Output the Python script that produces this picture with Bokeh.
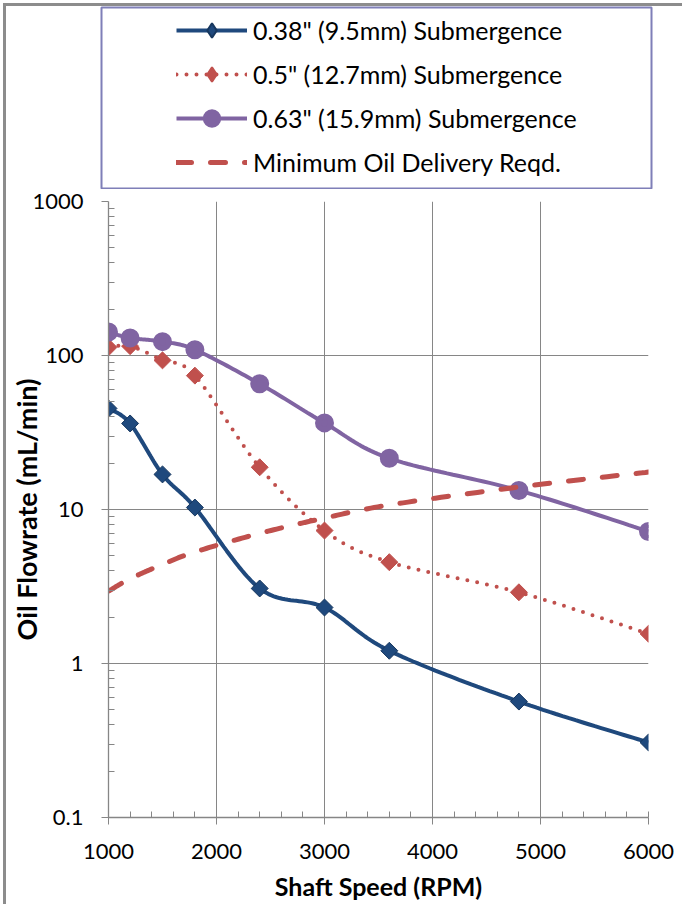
import numpy as np
from bokeh.plotting import figure
from bokeh.models import FixedTicker, Legend, LegendItem, Range1d
from bokeh.embed import file_html
from bokeh.resources import INLINE

# ---- data ----
rpm = [1000, 1200, 1500, 1800, 2400, 3000, 3600, 4800, 6000]
sub_038 = [45.3, 36.2, 16.9, 10.3, 3.07, 2.31, 1.21, 0.566, 0.307]
sub_050 = [113, 115, 93, 74, 18.8, 7.3, 4.55, 2.9, 1.56]
sub_063 = [142, 130, 123, 109, 65.5, 36.5, 21.5, 13.3, 7.2]
min_req = [2.95, 3.55, 4.4, 5.3, 7.0, 8.8, 10.7, 14.0, 17.5]

names = ['0.38" (9.5mm) Submergence', '0.5" (12.7mm) Submergence',
         '0.63" (15.9mm) Submergence', 'Minimum Oil Delivery Reqd.']

x_ticks = [1000, 2000, 3000, 4000, 5000, 6000]
x_minor = list(range(1000, 6001, 200))
y_ticks = [0.1, 1, 10, 100, 1000]
y_tick_labels = ["0.1", "1", "10", "100", "1000"]
y_minor = [k * 10.0 ** e for e in range(-1, 3) for k in range(2, 10)]

FONT = "Lato"
BLUE, RED, PURPLE = "#1F497D", "#C0504D", "#8064A2"
GRID = "#868686"
FRAME = "3px solid #8c8c8c"

LINES = {
    "s038": dict(line_color=BLUE, line_width=4),
    "s050": dict(line_color=RED, line_width=4, line_dash="0 10", line_cap="round"),
    "s063": dict(line_color=PURPLE, line_width=4),
    "req": dict(line_color=RED, line_width=5, line_dash="15 19", line_cap="round"),
}
MARKS = {
    "s038": dict(marker="square", size=12, angle=np.pi / 4,
                 fill_color=BLUE, line_color="#17375E", line_width=1),
    "s050": dict(marker="square", size=12, angle=np.pi / 4,
                 fill_color=RED, line_color=RED, line_width=1),
    "s063": dict(marker="circle", size=13, fill_color=PURPLE,
                 line_color=PURPLE, line_width=6),
    "req": None,
}
# legend samples (the legend sizes markers itself and ignores angles)
LEGEND_MARKS = {
    "s038": dict(marker="diamond", fill_color=BLUE, line_color="#17375E", line_width=2),
    "s050": dict(marker="diamond", fill_color=RED, line_color=RED, line_width=2),
    "s063": dict(marker="circle", fill_color=PURPLE, line_color=PURPLE, line_width=4),
    "req": None,
}


def smooth(xs, ys, n=24):
    """Bezier smoothing (Catmull-Rom control points) in x / log10(y) space."""
    P = np.column_stack([np.asarray(xs, float), np.log10(np.asarray(ys, float))])
    out = [P[0]]
    t = np.linspace(0, 1, n)[1:, None]
    for i in range(len(P) - 1):
        p0 = P[i - 1] if i > 0 else P[i]
        p1, p2 = P[i], P[i + 1]
        p3 = P[i + 2] if i + 2 < len(P) else P[i + 1]
        c1 = p1 + (p2 - p0) / 6.0
        c2 = p2 - (p3 - p1) / 6.0
        seg = (1 - t) ** 3 * p1 + 3 * (1 - t) ** 2 * t * c1 + 3 * (1 - t) * t ** 2 * c2 + t ** 3 * p2
        out.extend(seg)
    out = np.array(out)
    return out[:, 0], 10 ** out[:, 1]


W = 679
# ---------------- legend panel (its frame outline is the legend box) ----------------
HL = 186
lg = figure(width=W, height=HL, x_range=Range1d(0, 1), y_range=Range1d(0, 1),
            output_backend="svg", toolbar_location=None,
            x_axis_location=None, y_axis_location=None,
            min_border_left=95, min_border_right=W - 645,
            min_border_top=1, min_border_bottom=HL - 182)
lg.xgrid.visible = False
lg.ygrid.visible = False
lg.outline_line_color = "#7F7FB8"
lg.outline_line_width = 2
lg.styles = {"margin-left": "3px", "margin-top": "3px",
             "border-left": FRAME, "border-top": FRAME}

items = []
for key, label in zip(["s038", "s050", "s063", "req"], names):
    # legend-only sample renderers, placed outside this panel's visible range
    rs = [lg.line([2, 3], [2, 2], **LINES[key])]
    if LEGEND_MARKS[key]:
        rs.append(lg.scatter([2], [2], **LEGEND_MARKS[key]))
    items.append(LegendItem(label=label, renderers=rs))

legend = Legend(items=items, location=(75, 8), padding=0, margin=0, spacing=8,
                glyph_width=71, glyph_height=36, label_height=36,
                label_standoff=6, border_line_color=None,
                background_fill_alpha=0,
                label_text_font=FONT, label_text_font_size="25px",
                label_text_color="black")
lg.add_layout(legend)

# ---------------- main chart ----------------
HM = 723
p = figure(width=W, height=HM, y_axis_type="log",
           x_range=(1000, 6000), y_range=(0.1, 1000),
           output_backend="svg", toolbar_location=None,
           min_border_left=102, min_border_right=W - 642,
           min_border_top=20, min_border_bottom=HM - 636,
           background_fill_color="white", border_fill_alpha=0)
p.outline_line_color = None
p.styles = {"margin-left": "3px", "margin-top": "-8px", "border-left": FRAME}

p.xaxis.ticker = FixedTicker(ticks=x_ticks, minor_ticks=x_minor)
p.yaxis.ticker = FixedTicker(ticks=y_ticks, minor_ticks=y_minor)
p.yaxis.major_label_overrides = dict(zip(y_ticks, y_tick_labels))
for ax in (p.xaxis, p.yaxis):
    ax.axis_line_color = GRID
    ax.axis_line_width = 1.3
    ax.major_tick_line_color = GRID
    ax.minor_tick_line_color = GRID
    ax.major_tick_in = 0
    ax.major_tick_out = 7
    ax.minor_tick_in = 6
    ax.minor_tick_out = 0
    ax.major_label_text_font = FONT
    ax.major_label_text_font_size = "22px"
    ax.major_label_text_color = "black"
    ax.axis_label_text_font = FONT
    ax.axis_label_text_font_style = "bold"
    ax.axis_label_text_color = "black"
p.xaxis.axis_label = "Shaft Speed (RPM)"
p.yaxis.axis_label = "Oil Flowrate (mL/min)"
p.xaxis.axis_label_text_font_size = "25px"
p.yaxis.axis_label_text_font_size = "27px"
p.xaxis.major_label_standoff = 19
p.yaxis.major_label_standoff = 18
p.xaxis.axis_label_standoff = 9
p.yaxis.axis_label_standoff = -14

p.xgrid.grid_line_color = GRID
p.ygrid.grid_line_color = GRID
p.xgrid.grid_line_width = 1
p.ygrid.grid_line_width = 1

for key, ys in zip(["s038", "s050", "s063", "req"], [sub_038, sub_050, sub_063, min_req]):
    sx, sy = smooth(rpm, ys)
    p.line(sx, sy, **LINES[key])
    if MARKS[key]:
        p.scatter(rpm, ys, **MARKS[key])

open("out.html", "w").write(file_html([lg, p], INLINE))
